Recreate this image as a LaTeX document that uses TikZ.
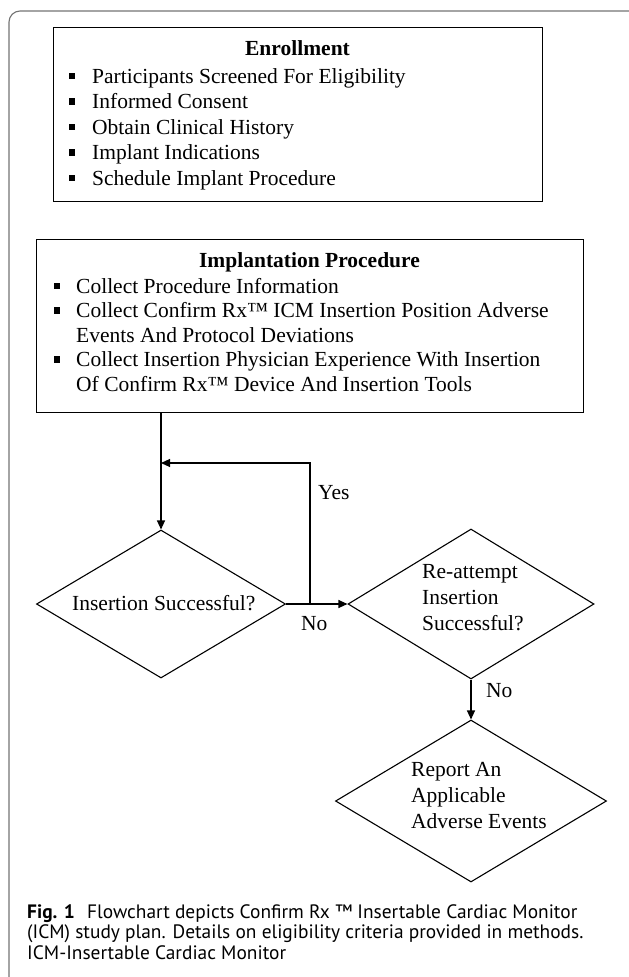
\documentclass[tikz,border=0pt]{standalone}
\usepackage{fontspec}
\setmainfont{Liberation Serif}
\newfontfamily\capfont{PT Sans}
\usetikzlibrary{shapes.geometric,arrows.meta}
\begin{document}
\begin{tikzpicture}[x=1pt,y=-1pt,
  frame/.style={draw=black!55,line width=1.1pt,rounded corners=11pt},
  box/.style={draw=black,line width=1.1pt,inner sep=0pt,anchor=north west},
  dia/.style={draw=black,line width=1.1pt,shape=diamond,inner sep=0pt},
  txt/.style={font=\fontsize{21.5}{25.5}\selectfont,inner sep=0pt,anchor=base west},
  ttl/.style={font=\fontsize{21.5}{25.5}\selectfont\bfseries,inner sep=0pt,anchor=base},
  captxt/.style={font=\capfont\fontsize{19.4}{21}\selectfont,inner sep=0pt,anchor=base west},
  bul/.style={fill=black},
  arr/.style={draw=black,line width=1.1pt,-{Triangle[length=9pt,width=8pt]}}]
\useasboundingbox (0,0) rectangle (629,977);
\begin{scope}
\clip (0,0) rectangle (629,977);
\draw[frame] (9,11) rectangle (642,990);
\end{scope}

% Enrollment box
\node[box,minimum width=489pt,minimum height=174pt] (ebox) at (53,27) {};
\node[ttl] (etitle) at (297.5,55) {Enrollment};
\node[txt] (e1) at (92,83) {Participants Screened For Eligibility};
\node[txt] (e2) at (92,108.5) {Informed Consent};
\node[txt] (e3) at (92,134) {Obtain Clinical History};
\node[txt] (e4) at (92,159.5) {Implant Indications};
\node[txt] (e5) at (92,185) {Schedule Implant Procedure};
\foreach \yy in {83,108.5,134,159.5,185}{\fill[bul] (69,\yy-10.5) rectangle (75,\yy-4);}

% Implantation box
\node[box,minimum width=547pt,minimum height=173pt] (ibox) at (36,239) {};
\node[ttl] (ititle) at (309.5,267) {Implantation Procedure};
\node[txt] (i1) at (76,293) {Collect Procedure Information};
\node[txt] (i2) at (76,317.5) {Collect Confirm Rx™ ICM Insertion Position Adverse};
\node[txt] (i2b) at (76,342) {Events And Protocol Deviations};
\node[txt] (i3) at (76,366.5) {Collect Insertion Physician Experience With Insertion};
\node[txt] (i3b) at (76,391) {Of Confirm Rx™ Device And Insertion Tools};
\foreach \yy in {293,317.5,366.5}{\fill[bul] (54,\yy-10.5) rectangle (60,\yy-4);}

% Diamonds
\node[dia,minimum width=249pt,minimum height=148pt] (d1) at (161,604) {};
\node[dia,minimum width=246pt,minimum height=150pt] (d2) at (471,604) {};
\node[dia,minimum width=271pt,minimum height=162pt] (d3) at (471,801) {};

\node[txt] (d1t) at (72,610) {Insertion Successful?};
\node[txt] (d2a) at (422,578) {Re-attempt};
\node[txt] (d2b) at (422,604) {Insertion};
\node[txt] (d2c) at (422,630) {Successful?};
\node[txt] (d3a) at (411,776) {Report An};
\node[txt] (d3b) at (411,802) {Applicable};
\node[txt] (d3c) at (411,828) {Adverse Events};

% Connectors
\draw[arr] (d1.north |- ibox.south) -- (d1.north);
\draw[arr] (d1.east) -- (d2.west);
\coordinate (fbbase) at (310,604);
\coordinate (fbtop) at (310,463);
\coordinate (fbend) at (161,463);
\draw[arr] (fbbase) -- (fbtop) -- (fbend);
\draw[arr] (d2.south) -- (d3.north);

\node[txt] (yes) at (318,499) {Yes};
\node[txt] (no1) at (301,630) {No};
\node[txt] (no2) at (486,697) {No};

% Caption
\node[captxt] (c0) at (27,918) {\textbf{Fig. 1}};
\node[captxt] (c1) at (87,918) {Flowchart depicts Confirm Rx ™ Insertable Cardiac Monitor};
\node[captxt] (c2) at (27,938.5) {(ICM) study plan. Details on eligibility criteria provided in methods.};
\node[captxt] (c3) at (27,959) {ICM-Insertable Cardiac Monitor};
\end{tikzpicture}
\end{document}
